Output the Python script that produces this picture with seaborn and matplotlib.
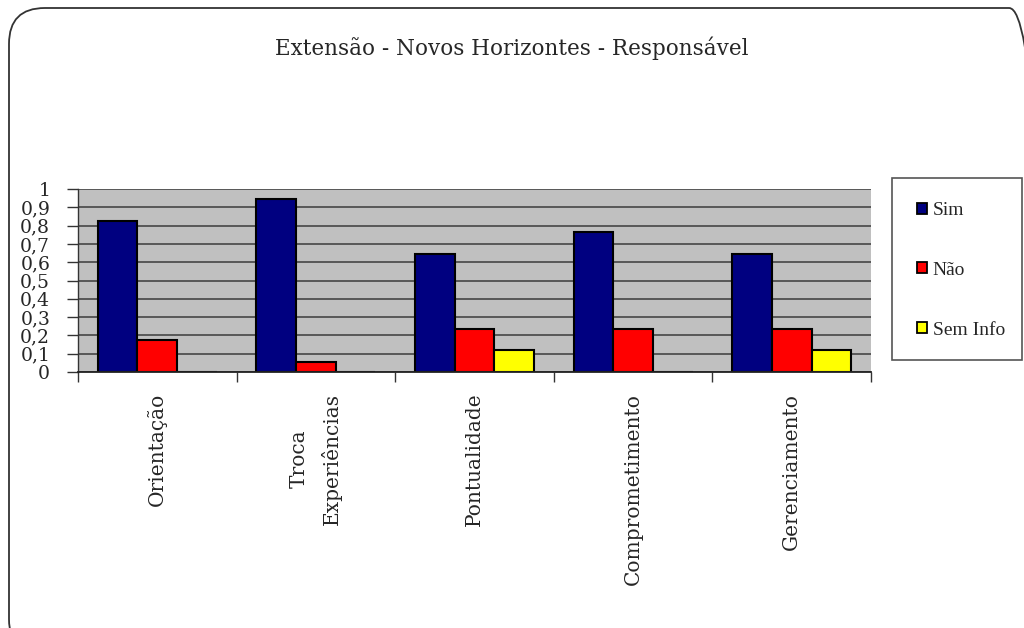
import matplotlib
matplotlib.use("Agg")
import matplotlib.pyplot as plt
from matplotlib.patches import FancyBboxPatch, Rectangle, Patch
import pandas as pd
import seaborn as sns

# Chart data
categories = ["Orientação", "Troca\nExperiências", "Pontualidade", "Comprometimento", "Gerenciamento"]
series_names = ["Sim", "Não", "Sem Info"]
sim = [0.824, 0.944, 0.647, 0.765, 0.647]
nao = [0.176, 0.056, 0.235, 0.235, 0.235]
sem_info = [0.0, 0.0, 0.118, 0.0, 0.118]
y_ticks = [0, 0.1, 0.2, 0.3, 0.4, 0.5, 0.6, 0.7, 0.8, 0.9, 1]
y_tick_labels = ["0", "0,1", "0,2", "0,3", "0,4", "0,5", "0,6", "0,7", "0,8", "0,9", "1"]
title = "Extensão - Novos Horizontes - Responsável"

colors = {"Sim": "#000080", "Não": "#FF0000", "Sem Info": "#FFFF00"}

df = pd.DataFrame({
    "categoria": categories * 3,
    "serie": ["Sim"] * 5 + ["Não"] * 5 + ["Sem Info"] * 5,
    "valor": sim + nao + sem_info,
})

sns.set_theme(style="white")
plt.rcParams["font.family"] = ["DejaVu Serif"]

W, H = 1024, 628
fig = plt.figure(figsize=(W / 100, H / 100), dpi=100)
fig.patch.set_facecolor("white")

def fx(px):
    return px / W

def fy(py):
    return 1 - py / H

# Rounded outer frame
frame = FancyBboxPatch((fx(9), fy(655)), fx(1045) - fx(9), fy(8) - fy(655),
                       boxstyle="round,pad=0,rounding_size=0.035",
                       transform=fig.transFigure, fill=False,
                       edgecolor="#333333", linewidth=1.3, clip_on=False,
                       mutation_aspect=W / H)
fig.patches.append(frame)

ax = fig.add_axes([fx(78), fy(372), fx(871) - fx(78), fy(189) - fy(372)])
ax.set_facecolor("#C0C0C0")

sns.barplot(data=df, x="categoria", y="valor", hue="serie", order=categories,
            hue_order=series_names, palette=colors, width=0.75,
            edgecolor="black", linewidth=1.5, saturation=1, legend=False, ax=ax)

ax.set_xlim(-0.5, len(categories) - 0.5)
ax.set_ylim(0, 1)
ax.set_yticks(y_ticks)
ax.set_yticklabels(y_tick_labels, fontsize=13.5, family="DejaVu Serif")
ax.yaxis.grid(True, color="#505050", linewidth=1.3)
ax.set_axisbelow(True)
ax.tick_params(axis="y", direction="out", length=8, width=1, color="#333333", pad=12, left=True)

# Category labels at the centres, ticks at the boundaries
ax.set_xticks(range(len(categories)))
ax.set_xticklabels(categories, rotation=90, fontsize=14.5, va="top", ha="center",
                   linespacing=1.75)
ax.tick_params(axis="x", which="major", length=0, pad=15)
ax.set_xticks([i - 0.5 for i in range(len(categories) + 1)], minor=True)
ax.tick_params(axis="x", which="minor", direction="out", length=7, width=1, color="#333333", bottom=True)
ax.set_xlabel("")
ax.set_ylabel("")

for side in ["top", "right"]:
    ax.spines[side].set_visible(False)
ax.spines["left"].set_color("#333333")
ax.spines["bottom"].set_color("#222222")
ax.spines["left"].set_linewidth(1)
ax.spines["bottom"].set_linewidth(1.3)

fig.text(0.5, fy(48), title, ha="center", va="center", fontsize=15.5,
         family="DejaVu Serif")

# Legend box
box = Rectangle((fx(892), fy(360)), fx(1022) - fx(892), fy(178) - fy(360),
                transform=fig.transFigure, facecolor="white", edgecolor="#555555",
                linewidth=1.2)
fig.patches.append(box)
handles = [Patch(facecolor=colors[s], edgecolor="black", linewidth=1.3) for s in series_names]
fig.legend(handles, series_names, loc="upper left", bbox_to_anchor=(fx(917), fy(202)),
           frameon=False, handlelength=0.5, handleheight=0.5, handletextpad=0.3,
           labelspacing=2.2, prop={"family": "Liberation Serif", "size": 14},
           borderpad=0, borderaxespad=0)

fig.savefig("out.png", dpi=100, facecolor="white")
